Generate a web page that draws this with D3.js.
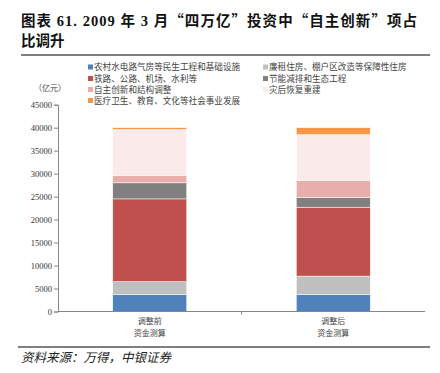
<!DOCTYPE html>
<html>
<head>
<meta charset="utf-8">
<script src="https://cdn.jsdelivr.net/npm/d3@7"></script>
<style>
  html, body { margin: 0; padding: 0; background: #fff; }
  svg { display: block; }
</style>
</head>
<body>
<svg id="chart" width="440" height="373"></svg>
<script>
// ---- data ----
const titleLines = ["图表 61. 2009 年 3 月“四万亿”投资中“自主创新”项占", "比调升"];
const categories = ["调整前|资金测算", "调整后|资金测算"];
const seriesNames = [
  "农村水电路气房等民生工程和基础设施",
  "廉租住房、棚户区改造等保障性住房",
  "铁路、公路、机场、水利等",
  "节能减排和生态工程",
  "自主创新和结构调整",
  "灾后恢复重建",
  "医疗卫生、教育、文化等社会事业发展"
];
const ruralInfra   = [3700, 3700];
const housing      = [2800, 4000];
const transport    = [18000, 15000];
const energyEco    = [3500, 2100];
const innovation   = [1600, 3700];
const reconstruct  = [10000, 10000];
const socialServ   = [400, 1500];
const yTicks = [0, 5000, 10000, 15000, 20000, 25000, 30000, 35000, 40000, 45000];
const unitLabel = "（亿元）";
const sourceText = "资料来源：万得，中银证券";

// ---- styles ----
const colors = ["#4F81BD", "#BFBFBF", "#C0504D", "#808080", "#E8AEAC", "#FAEBEA", "#F79646"];
const seriesValues = [ruralInfra, housing, transport, energyEco, innovation, reconstruct, socialServ];

const svg = d3.select("#chart");
const cjk = "'Liberation Serif', 'Noto Sans CJK SC', serif";
const cjkOnly = "'Noto Sans CJK SC', sans-serif";

// title (quotes drawn with CJK font so they are full-width)
const titleG = svg.append("g");
titleLines.forEach((line, i) => {
  const t = titleG.append("text")
    .attr("x", 21).attr("y", 26 + i * 20)
    .attr("font-family", cjk).attr("font-weight", "bold")
    .attr("font-size", 14.5).attr("fill", "#111");
  if (i === 0) t.attr("textLength", 396).attr("lengthAdjust", "spacing");
  const parts = line.split(/([“”])/).filter(p => p.length);
  parts.forEach(p => {
    t.append("tspan")
      .attr("font-family", /[“”]/.test(p) ? cjkOnly : cjk)
      .text(p);
  });
});

svg.append("line").attr("x1", 21).attr("x2", 430).attr("y1", 55).attr("y2", 55)
  .attr("stroke", "#7f7f7f").attr("stroke-width", 2);

// scales
const x = d3.scaleBand().domain(categories).range([58, 425])
  .paddingInner(0.597).paddingOuter(0.2985);
const y = d3.scaleLinear().domain([0, 45000]).range([311.5, 104.7]);

// stack
const rows = categories.map((c, i) => {
  const r = { cat: c };
  seriesNames.forEach((s, k) => r[s] = seriesValues[k][i]);
  return r;
});
const stack = d3.stack().keys(seriesNames)(rows);

svg.append("g").selectAll("g").data(stack).join("g")
  .attr("fill", (d, i) => colors[i])
  .selectAll("rect").data(d => d).join("rect")
  .attr("x", d => x(d.data.cat))
  .attr("width", x.bandwidth())
  .attr("y", d => y(d[1]))
  .attr("height", d => y(d[0]) - y(d[1]))
  .attr("stroke", "#fff").attr("stroke-width", 0.5);

// y axis
const yAxis = svg.append("g").attr("transform", "translate(58,0)")
  .call(d3.axisLeft(y).tickValues(yTicks).tickSize(4).tickPadding(2).tickFormat(d3.format("d")));
yAxis.select(".domain").attr("stroke", "#868686");
yAxis.selectAll(".tick line").attr("stroke", "#868686");
yAxis.selectAll(".tick text").attr("font-family", "'Liberation Serif', serif")
  .attr("font-size", 8.5).attr("fill", "#333");

// x axis
const xAxisG = svg.append("g").attr("transform", "translate(0,311.5)");
xAxisG.append("line").attr("x1", 58).attr("x2", 425).attr("stroke", "#868686");
const mid = (x(categories[0]) + x.bandwidth() + x(categories[1])) / 2;
xAxisG.append("line").attr("x1", mid).attr("x2", mid).attr("y1", 0).attr("y2", 3)
  .attr("stroke", "#868686");
xAxisG.selectAll("text.cat").data(categories).join("text")
  .attr("class", "cat")
  .attr("x", d => x(d) + x.bandwidth() / 2)
  .attr("text-anchor", "middle")
  .attr("font-family", cjk).attr("font-size", 8).attr("fill", "#444")
  .selectAll("tspan").data(d => d.split("|")).join("tspan")
  .attr("x", function () { return d3.select(this.parentNode).attr("x"); })
  .attr("y", (d, i) => 12.5 + i * 12)
  .text(d => d);

// unit label
svg.append("text").attr("x", 50).attr("y", 91).attr("text-anchor", "middle")
  .attr("font-family", cjk).attr("font-size", 8).attr("fill", "#444").text(unitLabel);

// legend
const legendPos = [
  [88, 67], [263, 67],
  [88, 78.5], [263, 78.5],
  [88, 89.5], [263, 89.5],
  [88, 100.5]
];
const lg = svg.append("g").selectAll("g").data(seriesNames).join("g")
  .attr("transform", (d, i) => `translate(${legendPos[i][0]},${legendPos[i][1]})`);
lg.append("rect").attr("x", 0).attr("y", -2.5).attr("width", 5).attr("height", 5)
  .attr("fill", (d, i) => colors[i]);
lg.append("text").attr("x", 6).attr("y", 3)
  .attr("font-family", cjk).attr("font-size", 8.6).attr("fill", "#444")
  .text(d => d);

// bottom rule + source
svg.append("line").attr("x1", 18).attr("x2", 430).attr("y1", 347).attr("y2", 347)
  .attr("stroke", "#7f7f7f").attr("stroke-width", 2);
svg.append("text").attr("x", 21).attr("y", 362)
  .attr("font-family", cjk).attr("font-style", "italic")
  .attr("font-size", 12.5).attr("fill", "#222").text(sourceText);
</script>
</body>
</html>
